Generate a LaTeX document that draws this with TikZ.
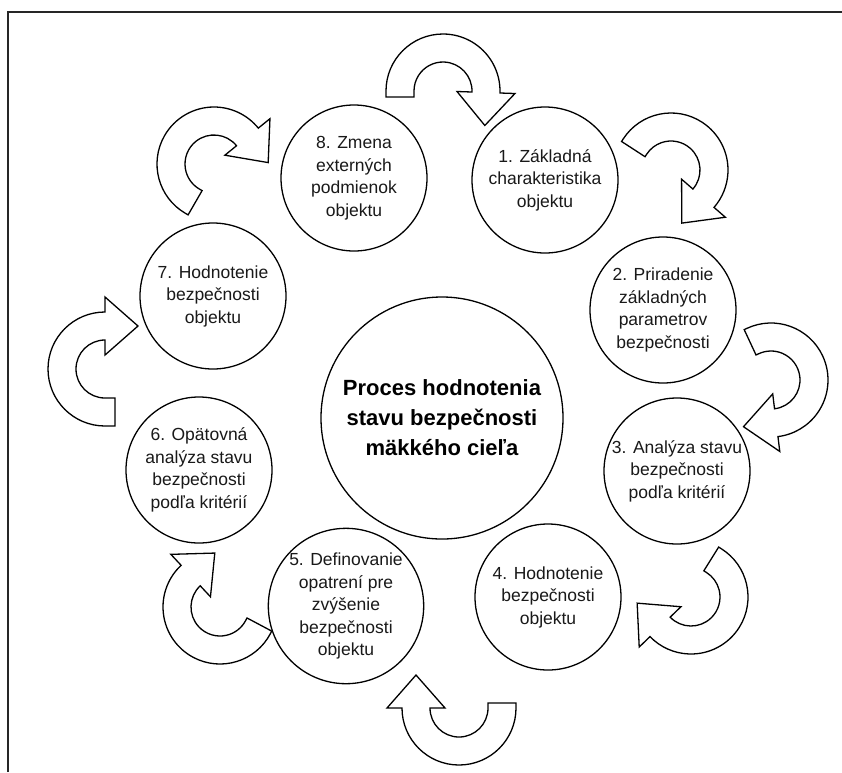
\documentclass[tikz,border=0pt]{standalone}
\usepackage{fontspec}
\setmainfont{Liberation Sans}
\usetikzlibrary{calc}
\tikzset{
  uarrow/.style={draw=black, fill=white, line width=1.3pt, line join=miter},
  circ/.style={draw=black, fill=white, circle, line width=1.3pt, minimum size=146pt, inner sep=0pt, align=center, font=\fontsize{17.5}{22.5}\selectfont, text=black!90},
  bigcirc/.style={draw=black, fill=white, circle, line width=1.3pt, minimum size=242pt, inner sep=0pt, align=center, font=\fontsize{22}{30}\selectfont\bfseries},
  frameline/.style={draw=black!85, line width=2pt}
}
% #1,#2 centre (px), #3 tail angle, #4 head angle (clockwise, #4 < #3), #5 tail extension
\newcommand{\uarr}[5]{%
  \begin{scope}[shift={(#1,-#2)}]
    \draw[uarrow] ($(#3:57pt)+({#3+90}:#5pt)$) -- (#3:57pt)
      arc[start angle=#3, end angle=#4, radius=57pt]
      -- (#4:72pt) -- ({#4-37.5}:54.2pt) -- (#4:14pt) -- (#4:29pt)
      arc[start angle=#4, end angle=#3, radius=29pt]
      -- ($(#3:29pt)+({#3+90}:#5pt)$) -- cycle;
  \end{scope}}
\begin{document}
\begin{tikzpicture}[x=1pt,y=1pt]
\useasboundingbox (0,0) rectangle (842,-772);
\draw[frameline] (8,-772) -- (8,-12) -- (842,-12);

% curved arrows
\uarr{443}{91}{180}{-2}{6}
\uarr{671}{170}{147}{-41}{3}
\uarr{771}{380}{115}{-83}{3}
\uarr{691}{597}{58}{-136}{3}
\uarr{459}{708}{0}{-180}{5}
\uarr{220}{607}{-28}{-227}{3}
\uarr{105}{369}{-90}{-270}{10}
\uarr{214}{164}{-120}{-321}{3}

% circles
\node[bigcirc] (center) at (442,-418) {Proces hodnotenia\\stavu bezpečnosti\\mäkkého cieľa};
\node[circ] (c1) at (545,-180) {1. Základná\\charakteristika\\objektu};
\node[circ] (c2) at (663,-310) {2. Priradenie\\základných\\parametrov\\bezpečnosti};
\node[circ] (c3) at (677,-471) {3. Analýza stavu\\bezpečnosti\\podľa kritérií};
\node[circ] (c4) at (548,-597) {4. Hodnotenie\\bezpečnosti\\objektu};
\node[circ] (c5) at (346,-606) {5. Definovanie\\opatrení pre\\zvýšenie\\bezpečnosti\\objektu};
\node[circ] (c6) at (199,-470) {6. Opätovná\\analýza stavu\\bezpečnosti\\podľa kritérií};
\node[circ] (c7) at (213,-296) {7. Hodnotenie\\bezpečnosti\\objektu};
\node[circ] (c8) at (354,-178) {8. Zmena\\externých\\podmienok\\objektu};
\end{tikzpicture}
\end{document}
